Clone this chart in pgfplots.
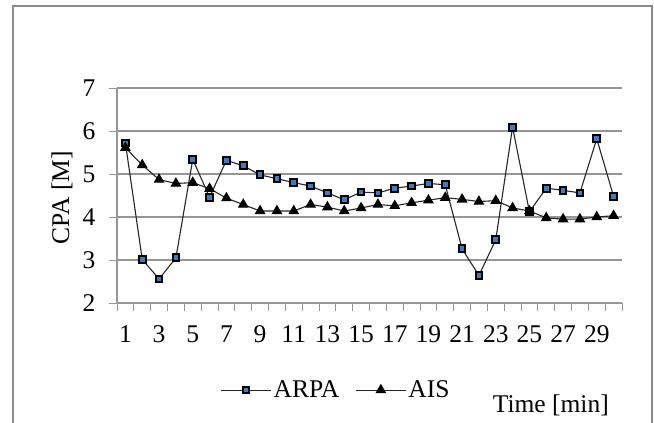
\documentclass[border=0pt]{standalone}
\usepackage{pgfplots}
\pgfplotsset{compat=1.18}
\usepackage{fontspec}
\setmainfont{Liberation Serif}
\definecolor{gridgray}{RGB}{150,150,150}
\definecolor{framegray}{RGB}{140,140,140}
\definecolor{markblue}{RGB}{70,120,190}
\newcommand{\bigf}{\fontsize{25.5bp}{30bp}\selectfont}
\pgfplotstableread{
x arpa ais
1 5.72 5.61
2 3.01 5.21
3 2.56 4.87
4 3.05 4.78
5 5.34 4.80
6 4.46 4.66
7 5.32 4.44
8 5.19 4.29
9 4.98 4.14
10 4.89 4.14
11 4.80 4.14
12 4.72 4.29
13 4.56 4.23
14 4.40 4.14
15 4.58 4.21
16 4.56 4.29
17 4.67 4.26
18 4.72 4.33
19 4.78 4.39
20 4.75 4.45
21 3.26 4.41
22 2.64 4.36
23 3.47 4.38
24 6.09 4.21
25 4.12 4.14
26 4.67 3.98
27 4.62 3.95
28 4.56 3.95
29 5.82 4.00
30 4.48 4.03
}\datatable
\begin{document}
\begin{tikzpicture}
\path[use as bounding box] (0,0) rectangle (654bp,-423bp);
\draw[framegray, line width=1.6bp] (13bp,-440bp) -- (13bp,-6bp) -- (652bp,-6bp) -- (652bp,-440bp);
\begin{axis}[
  at={(117bp,-303bp)}, anchor=south west,
  scale only axis, width=505bp, height=215bp,
  xmin=0.5, xmax=30.5, ymin=2, ymax=7,
  axis lines=left, axis line style={-, gridgray, line width=1.2bp},
  xtick={1,3,...,29},
  minor xtick={0.5,1.5,...,30.5},
  major x tick style={draw=none},
  minor x tick style={gridgray, line width=1bp},
  minor tick length=8bp,
  ytick={2,3,...,7},
  ytick style={gridgray, line width=1bp},
  major tick length=8bp,
  tick align=outside,
  ymajorgrids, grid style={gridgray, line width=1.2bp},
  /pgf/number format/assume math mode=true,
  tick label style={font=\bigf},
  xticklabel style={yshift=-11bp},
  yticklabel style={xshift=-10bp},
  clip=false,
  ylabel={CPA [M]},
  ylabel style={font=\bigf, at={(rel axis cs:-0.109,0.49)}, anchor=center},
  xlabel={Time [min]},
  xlabel style={font=\bigf, at={(rel axis cs:0.859,-0.474)}, anchor=center},
  legend columns=2,
  legend style={at={(rel axis cs:0.4337,-0.405)}, anchor=center, draw=none, fill=none, font=\bigf,
    /tikz/every even column/.append style={column sep=14bp}, inner sep=0pt},
  legend image code/.code={
    \draw[#1, mark repeat=2, mark phase=2] plot coordinates {(0bp,0bp) (25bp,0bp) (50bp,0bp)};
  },
]
\addplot[black!85, line width=1.1bp, mark=square*, mark size=3.4bp,
  mark options={fill=markblue, draw=black, line width=2bp, solid}] table[x=x, y=arpa] {\datatable};
\addlegendentry{ARPA}
\addplot[black!85, line width=1.1bp, mark=triangle*, mark size=5.2bp,
  mark options={fill=black, draw=black, solid}] table[x=x, y=ais] {\datatable};
\addlegendentry{AIS}
\end{axis}
\end{tikzpicture}
\end{document}
